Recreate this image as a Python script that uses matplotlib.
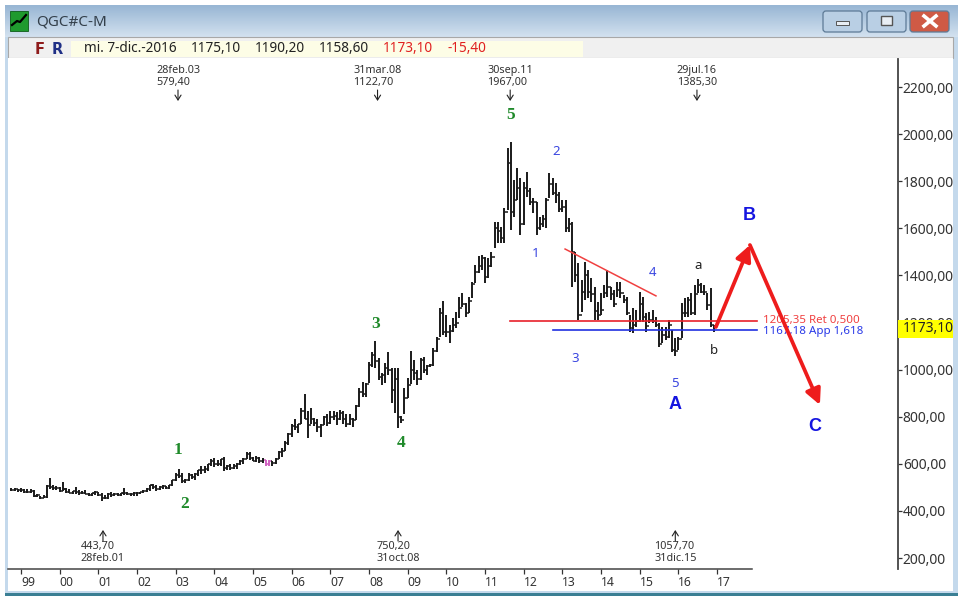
import matplotlib
matplotlib.use("Agg")
import matplotlib.pyplot as plt
import numpy as np
from matplotlib.patches import FancyBboxPatch, Rectangle

plt.rcParams['font.family'] = ['Noto Sans', 'DejaVu Sans']

# --- monthly bars, Oct 1998 .. Dec 2016 ---
start_year = 1998.75

highs = [498, 496, 494,
         496, 493, 492, 495, 490, 472, 464, 466, 510, 540, 512, 505,
         502, 523, 498, 492, 486, 500, 490, 484, 488, 478, 476, 484,
         482, 474, 468, 474, 480, 476, 478, 478, 497, 482, 478, 480,
         480, 482, 490, 496, 510, 516, 510, 505, 512, 506, 510, 532,
         562, 579.4, 560, 536, 560, 556, 560, 575, 590, 590, 600, 620,
         625, 615, 622, 630, 595, 600, 598, 605, 615, 625, 650, 652,
         630, 632, 630, 625, 615, 618, 610, 625, 655, 665, 695, 730,
         770, 790, 770, 835, 896, 825, 837, 794, 790, 770, 805, 810,
         825, 825, 820, 830, 825, 810, 810, 795, 850, 920, 947, 945,
         1032, 1075, 1122.7, 1050, 985, 1030, 1075, 1005, 1005, 1005, 805, 920,
         965, 1078, 1040, 998, 1050, 1053, 1020, 1023, 1090, 1140, 1262, 1291,
         1232, 1190, 1219, 1245, 1308, 1325, 1283, 1308, 1372, 1444, 1482, 1487,
         1478, 1474, 1499, 1627, 1627, 1605, 1686, 1942, 1967, 1805, 1856, 1813,
         1796, 1839, 1771, 1729, 1712, 1648, 1656, 1729, 1835, 1813, 1792, 1754,
         1720, 1720, 1644, 1627, 1499, 1453, 1380, 1457, 1423, 1389, 1351, 1287,
         1325, 1359, 1423, 1351, 1338, 1372, 1372, 1317, 1308, 1232, 1262, 1253,
         1329, 1308, 1240, 1245, 1253, 1223, 1198, 1181, 1181, 1211, 1168, 1134,
         1138, 1283, 1304, 1308, 1325, 1359, 1385.3, 1368, 1359, 1325, 1346, 1190.2]

lows = [484, 486, 480,
        480, 478, 476, 476, 460, 458, 452, 454, 456, 495, 490, 490,
        480, 486, 478, 474, 470, 470, 468, 470, 470, 462, 462, 466,
        462, 443.7, 452, 452, 460, 462, 462, 464, 466, 466, 464, 464,
        465, 472, 474, 480, 486, 494, 486, 488, 494, 494, 492, 506,
        525, 540, 520, 518, 526, 536, 530, 550, 555, 562, 570, 590,
        585, 590, 590, 570, 572, 575, 578, 580, 595, 600, 620, 615,
        610, 608, 605, 605, 590, 590, 592, 598, 620, 630, 655, 680,
        715, 745, 730, 770, 790, 710, 770, 760, 735, 714, 765, 760,
        770, 785, 765, 785, 770, 755, 765, 755, 785, 840, 884, 885,
        945, 1010, 1007, 955, 935, 945, 975, 858, 816, 750.2, 775, 810,
        880, 940, 955, 935, 955, 985, 977, 1010, 1015, 1075, 1138, 1147,
        1138, 1113, 1160, 1177, 1219, 1266, 1223, 1240, 1304, 1368, 1410, 1423,
        1368, 1389, 1436, 1516, 1538, 1538, 1538, 1677, 1592, 1648, 1720, 1571,
        1614, 1733, 1699, 1665, 1571, 1592, 1605, 1601, 1729, 1741, 1707, 1669,
        1669, 1584, 1584, 1351, 1372, 1211, 1245, 1295, 1304, 1287, 1211, 1211,
        1232, 1304, 1308, 1295, 1266, 1308, 1304, 1283, 1232, 1160, 1155, 1181,
        1202, 1202, 1160, 1198, 1198, 1181, 1096, 1113, 1126, 1134, 1075, 1057.7,
        1083, 1134, 1223, 1223, 1232, 1232, 1325, 1325, 1317, 1253, 1180, 1158.6]

closes = [490, 492, 488,
          487, 482, 481, 486, 463, 466, 455, 458, 505, 500, 497, 496,
          484, 494, 482, 477, 484, 482, 474, 474, 472, 466, 474, 480,
          468, 456, 456, 472, 466, 470, 466, 476, 478, 470, 472, 476,
          476, 480, 486, 494, 508, 500, 494, 502, 504, 498, 508, 530,
          552, 548, 526, 532, 552, 542, 555, 572, 575, 578, 598, 612,
          600, 598, 620, 582, 590, 582, 590, 600, 612, 622, 642, 625,
          612, 625, 612, 615, 598, 612, 605, 620, 650, 655, 690, 725,
          760, 755, 770, 825, 790, 765, 790, 772, 755, 765, 800, 775,
          800, 805, 790, 815, 790, 770, 790, 785, 845, 905, 895, 940,
          1020, 1060, 1035, 970, 975, 1005, 1000, 915, 960, 800, 785, 880,
          935, 1000, 985, 960, 1040, 1000, 1015, 1018, 1080, 1130, 1240, 1160,
          1160, 1165, 1190, 1200, 1260, 1280, 1240, 1290, 1365, 1415, 1440, 1475,
          1395, 1440, 1480, 1600, 1590, 1560, 1670, 1877, 1669, 1720, 1770, 1620,
          1770, 1760, 1710, 1710, 1600, 1620, 1640, 1720, 1790, 1750, 1740, 1680,
          1690, 1600, 1620, 1499, 1400, 1230, 1330, 1400, 1330, 1320, 1250, 1230,
          1255, 1325, 1350, 1320, 1280, 1340, 1325, 1295, 1240, 1175, 1190, 1205,
          1280, 1225, 1185, 1210, 1205, 1190, 1110, 1145, 1140, 1190, 1085, 1080,
          1130, 1240, 1240, 1295, 1240, 1320, 1360, 1330, 1330, 1275, 1190, 1173.1]

magenta_bars = [79, 80]  # May, Jun 2005

price_ticks = [200, 400, 600, 800, 1000, 1200, 1400, 1600, 1800, 2000, 2200]
price_labels = ['200,00', '400,00', '600,00', '800,00', '1000,00', '1200,00',
                '1400,00', '1600,00', '1800,00', '2000,00', '2200,00']
year_ticks = list(range(1999, 2018))
year_labels = ['99', '00', '01', '02', '03', '04', '05', '06', '07', '08', '09',
               '10', '11', '12', '13', '14', '15', '16', '17']

# fecha / valor de los extremos marcados
top_marks = [(2003.06, '28feb.03\n579,40'), (2008.22, '31mar.08\n1122,70'),
             (2011.65, '30sep.11\n1967,00'), (2016.48, '29jul.16\n1385,30')]
bottom_marks = [(2001.12, '443,70\n28feb.01'), (2008.75, '750,20\n31oct.08'),
                (2015.92, '1057,70\n31dic.15')]

green_waves = [('1', 2003.06, 659), ('2', 2003.24, 429), ('3', 2008.18, 1194),
               ('4', 2008.83, 688), ('5', 2011.65, 2081)]
blue_waves = [('1', 2012.32, 1495), ('2', 2012.83, 1928), ('3', 2013.33, 1049),
              ('4', 2015.32, 1414), ('5', 2015.91, 943)]
abc_waves = [('A', 2015.91, 850), ('B', 2017.83, 1656), ('C', 2019.53, 760)]
sub_waves = [('a', 2016.51, 1444), ('b', 2016.92, 1079)]

ret_level = 1205.35
app_level = 1167.18
trend_x = [2013.07, 2015.42]
trend_y = [1512, 1313]
path_x = [2016.97, 2017.85, 2019.66]
path_y = [1181, 1529, 850]

# --- figura y marco de la ventana ---
fig = plt.figure(figsize=(9.61, 6.02), dpi=100, facecolor='white')
bg = fig.add_axes([0, 0, 1, 1], zorder=0)
bg.set_xlim(0, 961)
bg.set_ylim(602, 0)
bg.axis('off')

bg.add_patch(Rectangle((5, 5), 953, 591, fc='#c4d9ec', ec='none'))
grad = np.linspace(0, 1, 32).reshape(-1, 1)
bg.imshow(grad, extent=(5, 958, 37, 5), cmap=matplotlib.colors.LinearSegmentedColormap.from_list(
    'title', ['#98b6d4', '#d2e1ef']), aspect='auto', zorder=1)
bg.set_xlim(0, 961)
bg.set_ylim(602, 0)
bg.add_patch(Rectangle((8, 37), 945, 21, fc='#f0f0f0', ec='#a8a8a8', lw=0.8, zorder=2))
bg.add_patch(Rectangle((71, 41), 512, 16, fc='#fdfde6', ec='none', zorder=3))
bg.add_patch(Rectangle((8, 58), 945, 533, fc='white', ec='none', zorder=2))
bg.add_patch(Rectangle((5, 593), 953, 3, fc='#3a7f94', ec='none', zorder=3))

# iconos y botones
bg.add_patch(Rectangle((10, 11), 18, 20, fc='#1f9a2e', ec='#0d5c18', lw=0.6, zorder=3))
bg.plot([12, 17, 20, 26], [25, 21, 22, 15], color='black', lw=1.6, zorder=4)
for x0, face in [(823, '#b9cfe4'), (867, '#b9cfe4'), (910, '#cf5a45')]:
    bg.add_patch(FancyBboxPatch((x0, 11), 39, 21, boxstyle='round,pad=0,rounding_size=3',
                                fc=face, ec='#5d7a96', lw=0.9, zorder=3))
bg.add_patch(Rectangle((836, 21), 13, 4, fc='#e8eef4', ec='#555555', lw=0.7, zorder=4))
bg.add_patch(Rectangle((881, 16), 11, 9, fc='#e8eef4', ec='#555555', lw=1.0, zorder=4))
bg.plot([924, 936], [16, 26], color='white', lw=2.6, zorder=4)
bg.plot([924, 936], [26, 16], color='white', lw=2.6, zorder=4)

bg.text(36, 22, 'QGC#C-M', fontsize=11, color='#333f4a', va='center', zorder=5)
bg.text(35, 49, 'F', fontsize=10.5, fontweight='bold', family='DejaVu Sans', color='#8e1b1b',
        va='center', zorder=5)
bg.text(52, 49, 'R', fontsize=10.5, fontweight='bold', family='DejaVu Sans', color='#1f2f86',
        va='center', zorder=5)
info = [(84, 'mi. 7-dic.-2016', '#222222'), (191, '1175,10', '#222222'), (255, '1190,20', '#222222'),
        (319, '1158,60', '#222222'), (383, '1173,10', '#e02020'), (447, '-15,40', '#e02020')]
for x0, s, c in info:
    bg.text(x0, 49, s, fontsize=9.8, color=c, va='center', zorder=5)

# --- grafico ---
ax = fig.add_axes([8 / 961, 1 - 569 / 602, 890 / 961, 510 / 602], zorder=1)
ax.patch.set_alpha(0)
ax.set_xlim(1999 + (8 - 21) / 38.67, 1999 + (898 - 21) / 38.67)
ax.set_ylim(200 - 11 / 0.2355, 2200 + 28 / 0.2355)

bar_x = start_year + np.arange(len(closes)) / 12
opens = [closes[0]] + closes[:-1]
for i, x in enumerate(bar_x):
    col = '#d060c0' if i in magenta_bars else '#1a1a1a'
    ax.plot([x, x], [lows[i], highs[i]], color=col, lw=1.4, solid_capstyle='butt')
    ax.plot([x - 0.042, x], [opens[i], opens[i]], color=col, lw=1.1, solid_capstyle='butt')
    ax.plot([x, x + 0.042], [closes[i], closes[i]], color=col, lw=1.1, solid_capstyle='butt')

for side in ['top', 'left']:
    ax.spines[side].set_visible(False)
ax.spines['right'].set_color('#444444')
ax.spines['right'].set_linewidth(1.3)
ax.spines['bottom'].set_color('#444444')
ax.spines['bottom'].set_linewidth(1.1)
ax.spines['bottom'].set_bounds(ax.get_xlim()[0], 1999 + (752 - 21) / 38.67)

ax.yaxis.tick_right()
ax.set_yticks(price_ticks)
ax.set_yticklabels(price_labels)
ax.set_xticks(year_ticks)
ax.set_xticklabels(year_labels, ha='left')
ax.tick_params(axis='y', length=3, width=0.9, pad=0.5, labelsize=10, colors='#333333')
ax.tick_params(axis='x', length=3.5, width=0.9, pad=1.5, labelsize=8.8, colors='#333333')

# etiquetas de ondas
for s, x, y in green_waves:
    ax.text(x, y, s, color='#1f8a2a', fontsize=12.5, fontweight='bold', family='Liberation Serif',
            ha='center', va='center')
for s, x, y in blue_waves:
    ax.text(x, y, s, color='#3a46e0', fontsize=9.5, ha='center', va='center')
for s, x, y in abc_waves:
    ax.text(x, y, s, color='#1515e0', fontsize=13, fontweight='bold', family='Liberation Sans',
            ha='center', va='center')
for s, x, y in sub_waves:
    ax.text(x, y, s, color='#222222', fontsize=9.5, ha='center', va='center')

# retroceso, proyeccion y directriz
ax.plot([2011.65, 2018.03], [ret_level, ret_level], color='#e8202a', lw=1.2)
ax.plot([2012.76, 2018.03], [app_level, app_level], color='#2030e0', lw=1.2)
ax.plot(trend_x, trend_y, color='#f04040', lw=1.1)
ax.text(2018.18, ret_level + 4, '1205,35 Ret 0,500', color='#f04040', fontsize=8.3, va='center')
ax.text(2018.18, app_level - 4, '1167,18 App 1,618', color='#2a3ae8', fontsize=8.3, va='center')

for i in range(2):
    ax.annotate('', xy=(path_x[i + 1], path_y[i + 1]), xytext=(path_x[i], path_y[i]),
                arrowprops=dict(arrowstyle='-|>,head_width=0.42,head_length=0.85', color='#ee1c1c',
                                lw=2.7, mutation_scale=11, shrinkA=0, shrinkB=0), zorder=6)

# fechas de extremos
tr = ax.get_xaxis_transform()
for x, s in top_marks:
    ax.text(x, 1 - 6 / 510, s, transform=tr, fontsize=7.8, color='#333333', ha='center', va='top',
            multialignment='left', linespacing=1.15)
    ax.annotate('', xy=(x, 1 - 42 / 510), xytext=(x, 1 - 31 / 510), xycoords=tr, textcoords=tr,
                arrowprops=dict(arrowstyle='->,head_width=0.22,head_length=0.35', color='#222222',
                                lw=0.8, shrinkA=0, shrinkB=0))
for x, s in bottom_marks:
    ax.text(x, 28 / 510, s, transform=tr, fontsize=7.8, color='#333333', ha='center', va='top',
            multialignment='left', linespacing=1.15)
    ax.annotate('', xy=(x, 39 / 510), xytext=(x, 28 / 510), xycoords=tr, textcoords=tr,
                arrowprops=dict(arrowstyle='->,head_width=0.22,head_length=0.35', color='#222222',
                                lw=0.8, shrinkA=0, shrinkB=0))

# ultimo precio sobre el eje
ytr = ax.get_yaxis_transform()
ax.add_patch(Rectangle((1.0, closes[-1] - 38), 55 / 890, 76, transform=ytr, fc='#ffff00', ec='none',
                       zorder=7, clip_on=False))
ax.text(1 + 5 / 890, closes[-1], '1173,10', transform=ytr, fontsize=10, color='#222222',
        va='center', ha='left', zorder=8, clip_on=False)

fig.savefig('out.png', dpi=100)
